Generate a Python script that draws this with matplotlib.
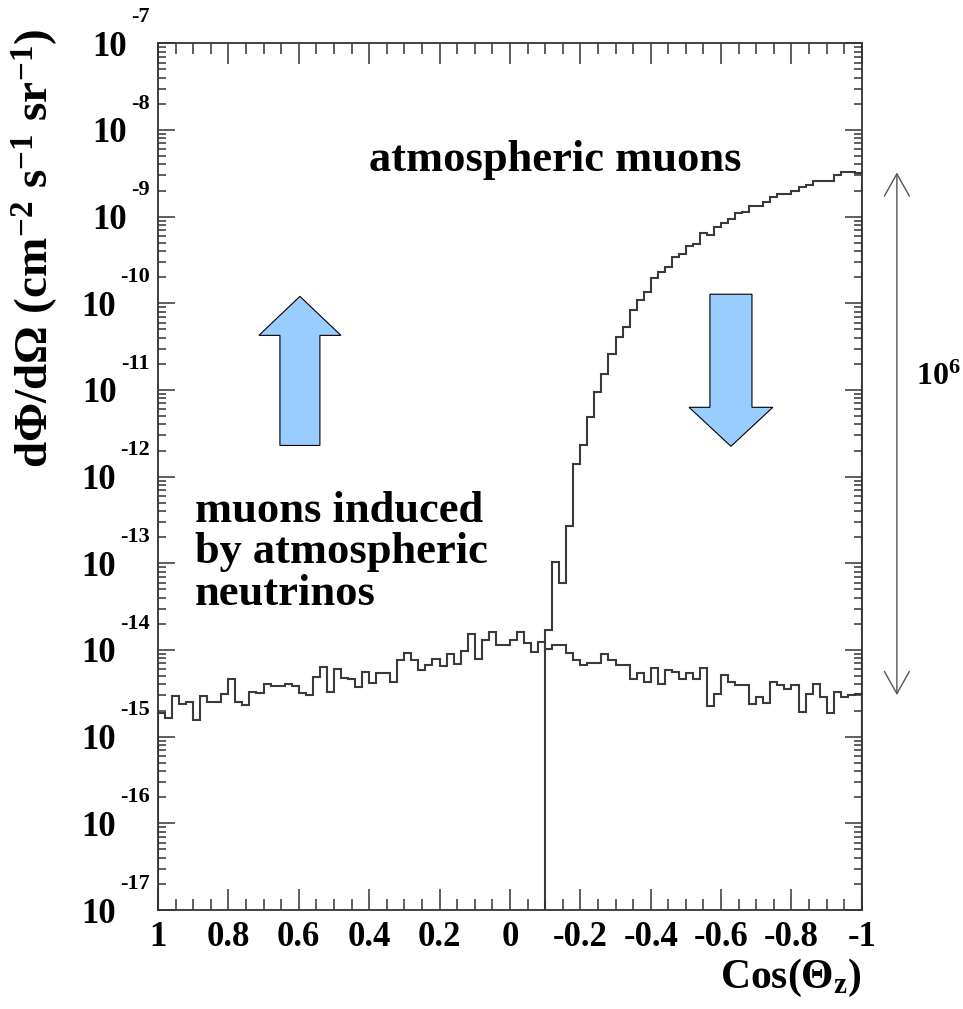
import numpy as np
import matplotlib.pyplot as plt
from matplotlib.patches import FancyArrow
from matplotlib.ticker import MultipleLocator, LogLocator, NullFormatter

plt.rcParams['font.family'] = ['Liberation Serif', 'DejaVu Serif']
plt.rcParams['font.weight'] = 'bold'
plt.rcParams['mathtext.fontset'] = 'custom'
plt.rcParams['mathtext.rm'] = 'Liberation Serif:bold'
plt.rcParams['mathtext.bf'] = 'Liberation Serif:bold'
plt.rcParams['mathtext.it'] = 'Liberation Serif:bold:italic'
plt.rcParams['axes.unicode_minus'] = False

# 100 bins in cos(theta_z), listed left to right as drawn (1 -> -1)
cos_edges = np.linspace(1, -1, 101)

# muons induced by atmospheric neutrinos, log10 of flux per bin
nu_log10 = [
    -14.73, -14.78, -14.53, -14.62, -14.60, -14.81, -14.53, -14.60, -14.60, -14.51,
    -14.34, -14.60, -14.63, -14.49, -14.50, -14.39, -14.42, -14.41, -14.39, -14.42,
    -14.50, -14.52, -14.31, -14.20, -14.49, -14.22, -14.32, -14.34, -14.43, -14.25,
    -14.38, -14.27, -14.27, -14.37, -14.12, -14.03, -14.12, -14.23, -14.17, -14.10,
    -14.19, -14.05, -14.16, -14.01, -13.81, -14.10, -13.89, -13.79, -13.94, -13.94,
    -13.88, -13.79, -13.92, -14.02, -13.91, -13.99, -13.94, -13.94, -14.03, -14.12,
    -14.17, -14.15, -14.15, -14.05, -14.12, -14.17, -14.17, -14.34, -14.27, -14.37,
    -14.21, -14.39, -14.23, -14.25, -14.34, -14.27, -14.34, -14.21, -14.65, -14.51,
    -14.29, -14.37, -14.40, -14.40, -14.62, -14.54, -14.61, -14.37, -14.40, -14.45,
    -14.40, -14.71, -14.51, -14.39, -14.54, -14.73, -14.49, -14.54, -14.52, -14.51,
]

# atmospheric muons: empty up to cos = -0.1 (bin 55), log10 of flux afterwards
atm_first_bin = 55
atm_log10 = [
    -13.77, -12.99, -13.23, -12.57, -11.85, -11.64, -11.31, -11.02, -10.81, -10.58,
    -10.39, -10.27, -10.08, -9.96, -9.87, -9.71, -9.64, -9.58, -9.47, -9.43,
    -9.34, -9.32, -9.19, -9.21, -9.12, -9.07, -9.03, -8.96, -8.95, -8.88,
    -8.88, -8.83, -8.77, -8.74, -8.74, -8.70, -8.66, -8.64, -8.59, -8.59,
    -8.59, -8.52, -8.48, -8.48, -8.50,
]

decades = list(range(-17, -6))
x_ticks = [1, 0.8, 0.6, 0.4, 0.2, 0, -0.2, -0.4, -0.6, -0.8, -1]
x_tick_labels = ['1', '0.8', '0.6', '0.4', '0.2', '0', '-0.2', '-0.4', '-0.6', '-0.8', '-1']

# the "10^6" double arrow spans from top of muon flux to neutrino level
span_top = 10 ** -8.49
span_bottom = 10 ** -14.52

nu_flux = 10.0 ** np.array(nu_log10)
atm_flux = np.zeros(len(nu_flux))
atm_flux[atm_first_bin:] = 10.0 ** np.array(atm_log10)

fig = plt.figure(figsize=(9.63, 10.09), dpi=100)
ax = fig.add_axes([0.164, 0.0981, 0.731, 0.859])
ax.set_yscale('log')
ax.set_xlim(1, -1)
ax.set_ylim(10.0 ** -17, 10.0 ** -7)

line_col = '#3a3a3a'
ax.stairs(nu_flux, cos_edges, color=line_col, lw=1.5)
ax.stairs(atm_flux, cos_edges, color=line_col, lw=1.5)

# axes / ticks, ROOT style
for sp in ax.spines.values():
    sp.set_linewidth(1.3)
    sp.set_color('#333333')
ax.set_xticks(x_ticks, x_tick_labels)
ax.xaxis.set_minor_locator(MultipleLocator(0.05))
ax.set_yticks([10.0 ** d for d in decades])
ax.set_yticklabels([])
ax.yaxis.set_minor_locator(LogLocator(base=10, subs=np.arange(2, 10), numticks=100))
ax.yaxis.set_minor_formatter(NullFormatter())
ax.tick_params(which='both', direction='in', top=True, right=True, color='#333333', width=1.1)
ax.tick_params(axis='x', which='major', length=15, labelsize=25, pad=8)
ax.tick_params(axis='x', which='minor', length=8)
ax.tick_params(axis='y', which='major', length=12)
ax.tick_params(axis='y', which='minor', length=6)

# y labels as 10 with a raised exponent
for d in decades:
    ex = ax.annotate(str(d), xy=(0, 10.0 ** d), xycoords=ax.get_yaxis_transform(),
                     xytext=(-6, 19), textcoords='offset points',
                     ha='right', va='center', fontsize=16, fontweight='bold')
    ax.annotate('10', xy=(0, 10.0 ** d), xycoords=(ex, ax.get_yaxis_transform()),
                xytext=(-3, 0), textcoords='offset points',
                ha='right', va='center_baseline', fontsize=25, fontweight='bold')

fig.text(0.036, 0.754, r'$\mathbf{d\Phi/d\Omega\ (cm^{-2}\ s^{-1}\ sr^{-1})}$',
         rotation=90, ha='center', va='center', fontsize=34)
ax.set_xlabel(r'$\mathbf{Cos(\Theta_z)}$', loc='right', fontsize=30, labelpad=2)

ax.text(0.564, 0.865, 'atmospheric muons', transform=ax.transAxes,
        ha='center', va='center', fontsize=32, fontweight='bold')
ax.text(0.053, 0.413, 'muons induced\nby atmospheric\nneutrinos', transform=ax.transAxes,
        ha='left', va='center', fontsize=32, fontweight='bold', linespacing=1.05)

# blue direction arrows
ax.add_patch(FancyArrow(0.2017, 0.536, 0, 0.172, width=0.0568, head_width=0.1165,
                        head_length=0.045, length_includes_head=True,
                        transform=ax.transAxes, fc='#99ccff', ec='black', lw=0.8))
ax.add_patch(FancyArrow(0.814, 0.7105, 0, -0.1755, width=0.0597, head_width=0.119,
                        head_length=0.045, length_includes_head=True,
                        transform=ax.transAxes, fc='#99ccff', ec='black', lw=0.8))

# double arrow for the 10^6 ratio
ax.annotate('', xy=(1.0497, span_top), xytext=(1.0497, span_bottom),
            xycoords=ax.get_yaxis_transform(), annotation_clip=False,
            arrowprops=dict(arrowstyle='<->,head_length=0.8,head_width=0.45',
                            mutation_scale=20, color='#555555', lw=1.0,
                            shrinkA=0, shrinkB=0))
fig.text(0.951, 0.626, r'$\mathbf{10^6}$', ha='left', va='center', fontsize=23)

fig.savefig('out.png', dpi=100)
